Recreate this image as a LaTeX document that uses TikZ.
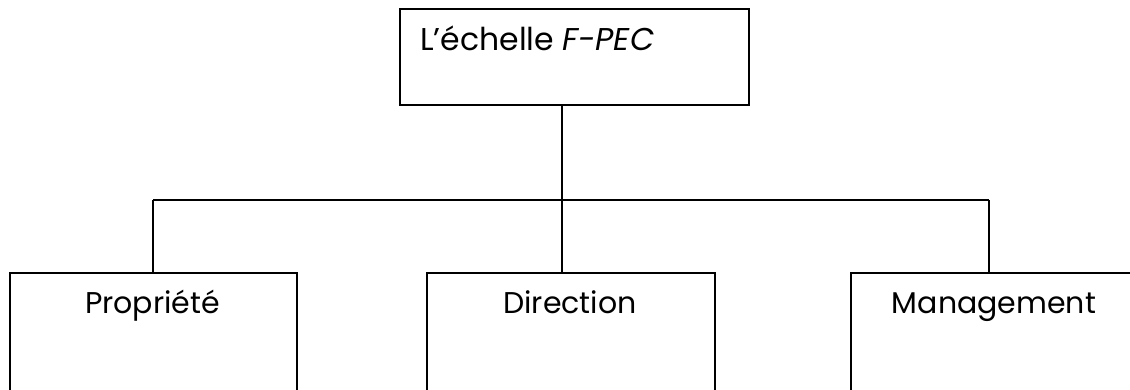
\documentclass[tikz,border=0pt]{standalone}
\usepackage{fontspec}
\setmainfont{Poppins}
\begin{document}
\begin{tikzpicture}[x=1pt,y=-1pt,
  boxstyle/.style={draw,line width=1.8pt,rectangle,inner sep=0pt},
  lbl/.style={font=\fontsize{30}{36}\selectfont,inner sep=0pt,anchor=base},
  conn/.style={line width=1.8pt}]
\useasboundingbox (0,0) rectangle (1130,389);
\clip (0,0) rectangle (1130,389);
\node[boxstyle,minimum width=349pt,minimum height=96pt,anchor=north west] (top) at (399,8) {};
\node[lbl,font=\fontsize{31.5}{36}\selectfont,anchor=base west] (toptext) at (420,50) {L’échelle \textit{F-PEC}};
\node[boxstyle,minimum width=287pt,minimum height=200pt,anchor=north west] (left) at (9,272) {};
\node[boxstyle,minimum width=288pt,minimum height=200pt,anchor=north west] (mid) at (426,272) {};
\node[boxstyle,minimum width=288pt,minimum height=200pt,anchor=north west] (right) at (850,272) {};
\node[lbl] (lt) at (152.5,313) {Propriété};
\node[lbl] (mt) at (570,313) {Direction};
\node[lbl] (rt) at (994,313) {Management};
\coordinate (j1) at (153,200);
\coordinate (j2) at (562,200);
\coordinate (j3) at (989,200);
\draw[conn] (j1) -- (j3);
\draw[conn] (top.south -| j2) -- (j2);
\draw[conn] (j1) -- (left.north -| j1);
\draw[conn] (j2) -- (mid.north -| j2);
\draw[conn] (j3) -- (right.north -| j3);
\end{tikzpicture}
\end{document}
